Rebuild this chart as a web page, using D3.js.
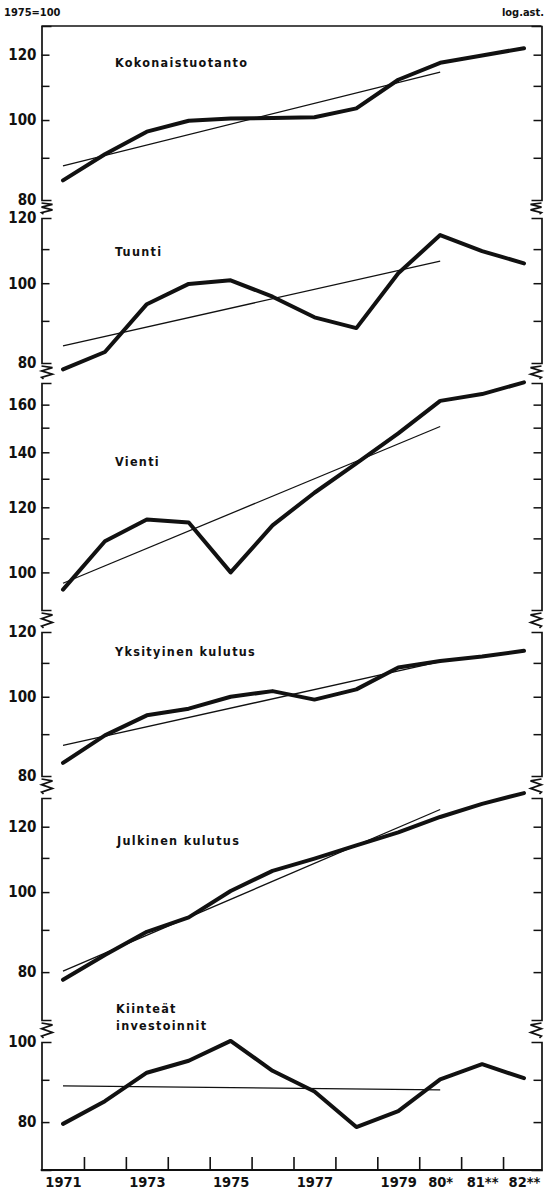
<!DOCTYPE html>
<html><head><meta charset="utf-8">
<script src="https://cdn.jsdelivr.net/npm/d3@7"></script>
<style>
body{margin:0;background:#fff;}
svg{display:block;}
.t{font-family:"DejaVu Sans Condensed","DejaVu Sans",sans-serif;font-weight:bold;font-stretch:condensed;fill:#111;}
</style></head>
<body>
<script>
// ---- data ----
const years = [1971,1972,1973,1974,1975,1976,1977,1978,1979,1980,1981,1982];
const yearLabels = ["1971","","1973","","1975","","1977","","1979","80*","81**","82**"];
const trendYears = [1971,1980];

const kokonaistuotanto = [84.5,90.9,96.8,99.8,100.4,100.6,100.8,103.3,111.9,117.3,119.7,122.2];
const kokonaistuotantoTrend = [88.0,114.3];
const tuonti = [78.6,82.5,94.3,99.8,100.8,96.3,90.9,88.2,102.8,114.4,109.4,105.7];
const tuontiTrend = [83.9,106.4];
const vienti = [95.3,109.1,116.0,115.0,100,114.1,125.0,135.7,147.6,161.7,164.8,170.3];
const vientiTrend = [97.0,150.5];
const yksityinenKulutus = [83.0,89.7,94.9,96.7,100,101.6,99.2,102.1,108.6,110.6,112.0,113.8];
const yksityinenKulutusTrend = [87.2,110.4];
const julkinenKulutus = [78.3,83.9,89.5,93.2,100.3,106.1,109.8,113.9,118.1,123.3,127.9,131.8];
const julkinenKulutusTrend = [80.2,125.9];
const kiinteatInvestoinnit = [79.6,84.8,91.8,94.9,100.3,92.3,87.1,78.9,82.5,90.1,94.0,90.4];
const kiinteatInvestoinnitTrend = [88.5,87.5];

const panelNames = [["Kokonaistuotanto"],["Tuunti"],["Vienti"],["Yksityinen kulutus"],["Julkinen kulutus"],["Kiinteät","investoinnit"]];
const panelSeries = [kokonaistuotanto,tuonti,vienti,yksityinenKulutus,julkinenKulutus,kiinteatInvestoinnit];
const panelTrends = [kokonaistuotantoTrend,tuontiTrend,vientiTrend,yksityinenKulutusTrend,julkinenKulutusTrend,kiinteatInvestoinnitTrend];
const panelDomains = [[80,130],[80,120],[90,170],[80,120],[70,130],[70,100]];
const panelTicks = [[80,90,100,110,120],[80,90,100,110,120],[90,100,110,120,130,140,150,160,170],[80,90,100,110,120],[70,80,90,100,110,120,130],[70,80,90,100]];
const panelLabels = [[80,100,120],[80,100,120],[100,120,140,160],[80,100,120],[80,100,120],[80,100]];

// ---- layout ----
const W = 545, H = 1194;
const axL = 41.5, axR = 541.5, bottomY = 1170;
const panelTop = [26,218,383,632,798,1042];
const panelBottom = [200,363,610,776,1020,1170];
const titlePos = [[115,67],[115,256],[115,466],[115,656],[117,845],[116,1013]];

const svg = d3.select("body").append("svg").attr("width",W).attr("height",H);
const x = d3.scaleLinear().domain([1971,1982]).range([63,524]);

// header texts
svg.append("text").attr("class","t").attr("x",4).attr("y",16).attr("font-size",11).text("1975=100");
svg.append("text").attr("class","t").attr("x",544).attr("y",16).attr("font-size",11).attr("text-anchor","end").text("log.ast.");

// top frame line
svg.append("line").attr("x1",axL).attr("x2",axR).attr("y1",26).attr("y2",26).attr("stroke","#111").attr("stroke-width",1.5);
// bottom axis line
svg.append("line").attr("x1",axL-0.8).attr("x2",axR+0.8).attr("y1",bottomY).attr("y2",bottomY).attr("stroke","#111").attr("stroke-width",2);

function zigzag(ax, y0, y1, dir){
  const pts=[[ax,y0]];
  const n=4, h=(y1-y0)/n;
  for(let i=0;i<n;i++){
    pts.push([ax+dir*(i%2===0?11:0), y0+h*(i+0.5)]);
  }
  pts.push([ax+dir*2,y1]);
  svg.append("path").attr("d",d3.line()(pts)).attr("fill","none").attr("stroke","#111").attr("stroke-width",1.6);
}

panelSeries.forEach((vals,i)=>{
  const y = d3.scaleLog().domain(panelDomains[i]).range([panelBottom[i],panelTop[i]]);
  const labs = panelLabels[i];
  const inner = panelTicks[i].filter(v=>v>panelDomains[i][0]&&v<panelDomains[i][1]);
  const la = d3.axisLeft(y).tickValues(inner)
    .tickSize(-8).tickSizeOuter(-10).tickPadding(5)
    .tickFormat(v=>labs.includes(v)?v:"");
  const g = svg.append("g").attr("transform",`translate(${axL},0)`).call(la);
  panelDomains[i].forEach(v=>{
    if(labs.includes(v)){
      g.append("text").attr("x",-5).attr("y",y(v)).attr("dy","0.36em").attr("text-anchor","end").text(v);
    }
  });
  const ra = d3.axisRight(y).tickValues(inner)
    .tickSize(-8).tickSizeOuter(-10).tickFormat("");
  const gr = svg.append("g").attr("transform",`translate(${axR},0)`).call(ra);
  [g,gr].forEach(gg=>{
    gg.select(".domain").attr("stroke","#111").attr("stroke-width",1.7);
    gg.selectAll(".tick line").attr("stroke","#111").attr("stroke-width",1.5);
  });
  g.selectAll("text").attr("class","t").attr("font-size",15).attr("fill","#111");

  if(i<5){
    const yb = panelBottom[i]+3, yt = panelTop[i+1]-4;
    zigzag(axL, yb, yt, 1);
    zigzag(axR, yb, yt, -1);
  }

  svg.append("path").datum(trendYears.map((yr,k)=>[yr,panelTrends[i][k]]))
    .attr("d",d3.line().x(d=>x(d[0])).y(d=>y(d[1])))
    .attr("fill","none").attr("stroke","#111").attr("stroke-width",1.3);
  svg.append("path").datum(years.map((yr,k)=>[yr,vals[k]]))
    .attr("d",d3.line().x(d=>x(d[0])).y(d=>y(d[1])))
    .attr("fill","none").attr("stroke","#111").attr("stroke-width",4).attr("stroke-linejoin","round").attr("stroke-linecap","round");

  panelNames[i].forEach((s,k)=>{
    svg.append("text").attr("class","t").attr("x",titlePos[i][0]).attr("y",titlePos[i][1]+k*17)
      .attr("font-size",12.5).attr("letter-spacing",1.3).text(s);
  });
});

// bottom ticks at year boundaries
const bt = d3.axisBottom(x).tickValues(years.slice(0,11).map(v=>v+0.5)).tickSize(-13).tickFormat("");
const gb = svg.append("g").attr("transform",`translate(0,${bottomY})`).call(bt);
gb.select(".domain").remove();
gb.selectAll(".tick line").attr("stroke","#111").attr("stroke-width",1.6);
// year labels
const bl = d3.axisBottom(x).tickValues(years).tickSize(0).tickPadding(7).tickFormat((d,k)=>yearLabels[k]);
const gl = svg.append("g").attr("transform",`translate(0,${bottomY})`).call(bl);
gl.select(".domain").remove();
gl.selectAll("text").attr("class","t").attr("font-size",14.5).attr("fill","#111");
</script>
</body></html>
